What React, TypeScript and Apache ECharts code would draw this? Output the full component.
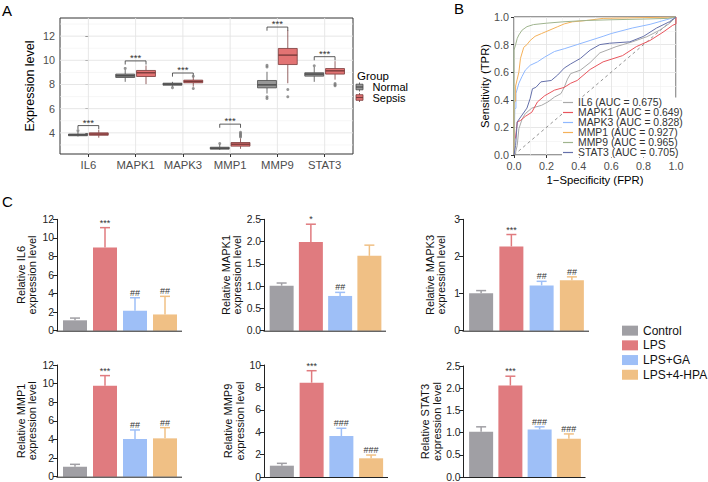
import React, { useEffect, useRef } from "react";
import * as echarts from "echarts";

const FONT = '"Liberation Sans", Arial, Helvetica, sans-serif';
const INK = "#222222";
const AXIS_GREY = "#4d4d4d";

// ---------- Panel A: hub gene expression, Normal vs Sepsis ----------
const genes = ["IL6", "MAPK1", "MAPK3", "MMP1", "MMP9", "STAT3"];
// [lower whisker, Q1, median, Q3, upper whisker]
const normalBox = [
  [3.7, 3.76, 3.83, 3.9, 4.08],
  [8.22, 8.58, 8.72, 8.86, 9.22],
  [7.82, 7.94, 8.03, 8.11, 8.22],
  [2.58, 2.65, 2.73, 2.81, 3.05],
  [7.25, 7.72, 7.97, 8.33, 9.05],
  [8.22, 8.69, 8.86, 8.97, 9.45],
];
const sepsisBox = [
  [3.6, 3.8, 3.9, 4.0, 4.25],
  [8.03, 8.66, 8.97, 9.16, 9.57],
  [7.82, 8.14, 8.25, 8.36, 8.62],
  [2.68, 2.9, 3.06, 3.2, 3.55],
  [8.1, 9.65, 10.43, 10.98, 12.5],
  [8.4, 8.86, 9.13, 9.32, 9.93],
];
// [gene index, value]
const normalOutliers = [
  [0, 4.18], [1, 9.33], [2, 7.74], [3, 3.12], [4, 9.45], [4, 9.58], [4, 6.98], [4, 6.84], [5, 9.55],
];
const sepsisOutliers = [
  [2, 7.67], [2, 8.68], [3, 3.65], [3, 3.75], [3, 3.85], [3, 3.95], [3, 4.05],
  [4, 7.58], [4, 6.98], [5, 8.08], [5, 7.98], [5, 7.9],
];
const bracketLevels = [4.6, 9.95, 8.95, 4.72, 12.75, 10.3];
const bracketLabels = ["***", "***", "***", "***", "***", "***"];
const aMajorY = [4, 6, 8, 10, 12];
const aMinorY = [3, 5, 7, 9, 11, 13];

// ---------- Panel B: ROC curves ----------
const aucLabels = ["0.675", "0.649", "0.828", "0.927", "0.965", "0.705"];
const rocIL6 = [
  [0, 0], [0.01, 0.02], [0.02, 0.07], [0.03, 0.19], [0.05, 0.26], [0.07, 0.3], [0.11, 0.34],
  [0.17, 0.36], [0.21, 0.385], [0.25, 0.42], [0.29, 0.445], [0.31, 0.49], [0.33, 0.55],
  [0.35, 0.59], [0.41, 0.615], [0.47, 0.67], [0.53, 0.74], [0.63, 0.785], [0.73, 0.82],
  [0.82, 0.857], [0.9, 0.905], [0.96, 0.954], [1, 1],
];
const rocMAPK1 = [
  [0, 0], [0, 0.1], [0.01, 0.13], [0.02, 0.24], [0.04, 0.25], [0.07, 0.28], [0.11, 0.31],
  [0.145, 0.385], [0.19, 0.43], [0.25, 0.47], [0.31, 0.49], [0.35, 0.52], [0.39, 0.54],
  [0.47, 0.62], [0.55, 0.675], [0.67, 0.72], [0.755, 0.785], [0.84, 0.83], [0.92, 0.89],
  [0.98, 0.94], [1, 0.95], [1, 1],
];
const rocMAPK3 = [
  [0, 0], [0.005, 0.33], [0.012, 0.34], [0.012, 0.445], [0.03, 0.52], [0.05, 0.57],
  [0.07, 0.615], [0.1, 0.65], [0.145, 0.675], [0.19, 0.71], [0.25, 0.75], [0.31, 0.77],
  [0.39, 0.8], [0.47, 0.83], [0.55, 0.86], [0.6, 0.88], [0.73, 0.92], [0.84, 0.947],
  [0.94, 0.98], [1, 1],
];
const rocMMP1 = [
  [0, 0], [0, 0.38], [0.01, 0.39], [0.01, 0.5], [0.02, 0.55], [0.03, 0.6], [0.04, 0.7],
  [0.06, 0.78], [0.08, 0.8], [0.1, 0.83], [0.13, 0.86], [0.17, 0.88], [0.21, 0.9],
  [0.27, 0.93], [0.31, 0.95], [0.36, 0.965], [0.45, 0.975], [0.55, 0.99], [1, 1],
];
const rocMMP9 = [
  [0, 0], [0, 0.76], [0.01, 0.8], [0.02, 0.845], [0.03, 0.87], [0.05, 0.905], [0.08, 0.93],
  [0.12, 0.945], [0.2, 0.955], [0.3, 0.965], [0.45, 0.975], [0.6, 0.98], [0.8, 0.985],
  [0.95, 0.99], [1, 1],
];
const rocSTAT3 = [
  [0, 0], [0.01, 0.07], [0.02, 0.24], [0.05, 0.29], [0.08, 0.34], [0.1, 0.41], [0.114, 0.48],
  [0.135, 0.49], [0.166, 0.53], [0.23, 0.54], [0.27, 0.58], [0.31, 0.63], [0.35, 0.66],
  [0.41, 0.7], [0.47, 0.76], [0.53, 0.8], [0.59, 0.81], [0.715, 0.82], [0.8, 0.86],
  [0.88, 0.92], [0.96, 0.966], [1, 1],
];
const rocCurves = [rocIL6, rocMAPK1, rocMAPK3, rocMMP1, rocMMP9, rocSTAT3];
const rocColors = ["#a9a9a9", "#e8555d", "#8fb8ff", "#f4b15a", "#9fb48e", "#6570aa"];

// ---------- Panel C: qPCR validation ----------
const groups = ["Control", "LPS", "LPS+GA", "LPS+4-HPA"];
const groupColors = ["#a09fa4", "#e07b7f", "#9ebff7", "#f0c085"];
const qpcrGenes = ["IL6", "MAPK1", "MAPK3", "MMP1", "MMP9", "STAT3"];
const il6Mean = [1.12, 8.95, 2.15, 1.75];
const il6Upper = [1.36, 11.1, 3.55, 3.7];
const il6Marks = ["", "***", "##", "##"];
const mapk1Mean = [1.01, 1.99, 0.78, 1.68];
const mapk1Upper = [1.07, 2.39, 0.86, 1.92];
const mapk1Marks = ["", "*", "##", ""];
const mapk3Mean = [1.01, 2.27, 1.22, 1.36];
const mapk3Upper = [1.08, 2.59, 1.33, 1.45];
const mapk3Marks = ["", "***", "##", "##"];
const mmp1Mean = [1.07, 9.78, 4.05, 4.12];
const mmp1Upper = [1.33, 10.86, 5.02, 5.27];
const mmp1Marks = ["", "***", "##", "##"];
const mmp9Mean = [1.01, 8.42, 3.66, 1.67];
const mmp9Upper = [1.22, 9.49, 4.35, 1.96];
const mmp9Marks = ["", "***", "###", "###"];
const stat3Mean = [1.02, 2.06, 1.07, 0.86];
const stat3Upper = [1.13, 2.27, 1.13, 0.97];
const stat3Marks = ["", "***", "###", "###"];
const qpcrMeans = [il6Mean, mapk1Mean, mapk3Mean, mmp1Mean, mmp9Mean, stat3Mean];
const qpcrUppers = [il6Upper, mapk1Upper, mapk3Upper, mmp1Upper, mmp9Upper, stat3Upper];
const qpcrMarks = [il6Marks, mapk1Marks, mapk3Marks, mmp1Marks, mmp9Marks, stat3Marks];
const qpcrAxisMax = [12, 2.5, 3, 12, 10, 2.5];
const qpcrAxisStep = [2, 0.5, 1, 2, 2, 0.5];

// Small-multiple placement for panel C
const cLayout = [
  { left: 60, top: 219.3, width: 120, height: 111.4, nameGap: 19 },
  { left: 267, top: 219.3, width: 117, height: 111.4, nameGap: 14 },
  { left: 466, top: 219.3, width: 121, height: 111.4, nameGap: 16 },
  { left: 60, top: 365, width: 120, height: 111.7, nameGap: 19 },
  { left: 267, top: 365, width: 119, height: 112, nameGap: 16 },
  { left: 466.5, top: 366, width: 117, height: 111, nameGap: 21 },
];

const DODGE = 0.22;
const BOX_W = 0.4;

function boxRenderer(fill: string, stroke: string) {
  return (params: any, api: any) => {
    const x = api.value(0);
    const p = [1, 2, 3, 4, 5].map((d) => api.coord([x, api.value(d)]));
    const cx = p[0][0];
    const hw = api.size([BOX_W, 0])[0] / 2;
    return {
      type: "group",
      children: [
        { type: "line", shape: { x1: cx, y1: p[4][1], x2: cx, y2: p[3][1] }, style: { stroke, lineWidth: 0.8 } },
        { type: "line", shape: { x1: cx, y1: p[0][1], x2: cx, y2: p[1][1] }, style: { stroke, lineWidth: 0.8 } },
        {
          type: "rect",
          shape: { x: cx - hw, y: p[3][1], width: hw * 2, height: p[1][1] - p[3][1] },
          style: { fill, stroke, lineWidth: 0.8 },
        },
        { type: "line", shape: { x1: cx - hw, y1: p[2][1], x2: cx + hw, y2: p[2][1] }, style: { stroke, lineWidth: 1.4 } },
      ],
    };
  };
}

function buildOption() {
  const grid: any[] = [];
  const xAxis: any[] = [];
  const yAxis: any[] = [];
  const series: any[] = [];

  // ----- A -----
  grid.push({ left: 60, top: 18, width: 293, height: 136, show: true, backgroundColor: "#fff", borderColor: "#333", borderWidth: 1 });
  xAxis.push({
    type: "value", gridIndex: 0, min: -0.6, max: 5.6,
    axisLine: { show: false }, splitLine: { show: false },
    axisTick: { show: true, length: 3, lineStyle: { color: "#333" }, customValues: [0, 1, 2, 3, 4, 5] },
    axisLabel: {
      customValues: [0, 1, 2, 3, 4, 5], formatter: (v: number) => genes[Math.round(v)] ?? "",
      fontSize: 11.3, color: AXIS_GREY, margin: 5, fontFamily: FONT,
    },
  });
  yAxis.push({
    type: "value", gridIndex: 0, min: 2.25, max: 13.5,
    axisLine: { show: false }, splitLine: { show: false },
    axisTick: { show: true, length: 3, lineStyle: { color: "#333" }, customValues: aMajorY },
    axisLabel: { customValues: aMajorY, fontSize: 10.8, color: AXIS_GREY, margin: 5, fontFamily: FONT },
    name: "Expression level", nameLocation: "middle", nameGap: 24,
    nameTextStyle: { fontSize: 12.5, color: "#000", fontFamily: FONT },
  });

  const gridData = [
    ...aMinorY.map((v) => [v, 0, 0]),
    ...aMajorY.map((v) => [v, 0, 1]),
    ...genes.map((_, i) => [i, 1, 1]),
  ];
  series.push({
    type: "custom", xAxisIndex: 0, yAxisIndex: 0, silent: true, z: 1, data: gridData,
    renderItem: (params: any, api: any) => {
      const cs = params.coordSys;
      const v = api.value(0);
      const dir = api.value(1);
      const major = api.value(2);
      const style = { stroke: major ? "#e4e4e4" : "#f0f0f0", lineWidth: major ? 0.9 : 0.6 };
      if (dir === 0) {
        const y = api.coord([0, v])[1];
        return { type: "line", shape: { x1: cs.x, y1: y, x2: cs.x + cs.width, y2: y }, style };
      }
      const x = api.coord([v, 5])[0];
      return { type: "line", shape: { x1: x, y1: cs.y, x2: x, y2: cs.y + cs.height }, style };
    },
  });
  series.push({
    type: "custom", name: "Normal", xAxisIndex: 0, yAxisIndex: 0, z: 3,
    data: normalBox.map((b, i) => [i - DODGE, ...b]),
    renderItem: boxRenderer("#979797", "#4a4a4a"),
  });
  series.push({
    type: "custom", name: "Sepsis", xAxisIndex: 0, yAxisIndex: 0, z: 3,
    data: sepsisBox.map((b, i) => [i + DODGE, ...b]),
    renderItem: boxRenderer("#e27373", "#7a3b3b"),
  });
  series.push({
    type: "scatter", xAxisIndex: 0, yAxisIndex: 0, z: 4, symbolSize: 3, silent: true,
    itemStyle: { color: "#7a7a7a" },
    data: normalOutliers.map(([i, v]) => [i - DODGE, v]),
  });
  series.push({
    type: "scatter", xAxisIndex: 0, yAxisIndex: 0, z: 4, symbolSize: 3, silent: true,
    itemStyle: { color: "#7a7a7a" },
    data: sepsisOutliers.map(([i, v]) => [i + DODGE, v]),
  });
  series.push({
    type: "custom", xAxisIndex: 0, yAxisIndex: 0, z: 4, silent: true,
    data: bracketLevels.map((y, i) => [i, y]),
    renderItem: (params: any, api: any) => {
      const i = api.value(0);
      const y = api.value(1);
      const l = api.coord([i - DODGE, y]);
      const r = api.coord([i + DODGE, y]);
      const tip = api.coord([i, y - 0.3])[1];
      return {
        type: "group",
        children: [
          {
            type: "polyline",
            shape: { points: [[l[0], tip], [l[0], l[1]], [r[0], r[1]], [r[0], tip]] },
            style: { stroke: "#333", lineWidth: 0.8, fill: "none" },
          },
          {
            type: "text", x: (l[0] + r[0]) / 2, y: l[1] + 1.5,
            style: {
              text: bracketLabels[params.dataIndex], align: "center", verticalAlign: "bottom",
              fontSize: 9.5, fontFamily: FONT, fill: "#333",
            },
          },
        ],
      };
    },
  });

  // ----- B -----
  grid.push({ left: 514, top: 17, width: 162, height: 138, show: true, backgroundColor: "#fff", borderColor: "#333", borderWidth: 1 });
  const rocAxis = (gridIndex: number, name: string, gap: number) => ({
    type: "value", gridIndex, min: 0, max: 1, interval: 0.2,
    axisLine: { show: false },
    axisTick: { show: true, length: 3, lineStyle: { color: "#333" } },
    axisLabel: {
      formatter: (v: number) => v.toFixed(1), fontSize: 10.8, color: AXIS_GREY, margin: 5,
      fontFamily: FONT, showMinLabel: true, showMaxLabel: true,
    },
    splitLine: { show: true, lineStyle: { color: "#e4e4e4", width: 0.9 } },
    minorTick: { show: false, splitNumber: 2 },
    minorSplitLine: { show: true, lineStyle: { color: "#f0f0f0", width: 0.6 } },
    name, nameLocation: "middle", nameGap: gap,
    nameTextStyle: { fontSize: 11.3, color: "#000", fontFamily: FONT },
  });
  xAxis.push(rocAxis(1, "1\u2212Specificity (FPR)", 19));
  yAxis.push(rocAxis(1, "Sensitivity (TPR)", 23));
  series.push({
    type: "line", xAxisIndex: 1, yAxisIndex: 1, silent: true, showSymbol: false, z: 2,
    data: [[0, 0], [1, 1]],
    lineStyle: { color: "#777", width: 0.8, type: [3, 3] },
  });
  genes.forEach((g, i) => {
    series.push({
      type: "line", name: g, xAxisIndex: 1, yAxisIndex: 1, showSymbol: false, z: 3,
      data: rocCurves[i],
      lineStyle: { color: rocColors[i], width: 1 },
      itemStyle: { color: rocColors[i] },
    });
  });

  // ----- C -----
  qpcrGenes.forEach((g, k) => {
    const L = cLayout[k];
    const gi = 2 + k;
    grid.push({ left: L.left, top: L.top, width: L.width, height: L.height });
    xAxis.push({
      type: "category", gridIndex: gi, data: groups,
      axisLine: { show: false }, axisTick: { show: false }, axisLabel: { show: false },
    });
    yAxis.push({
      type: "value", gridIndex: gi, min: 0, max: qpcrAxisMax[k], interval: qpcrAxisStep[k], offset: 3,
      axisLine: { show: true, lineStyle: { color: INK, width: 1 } },
      axisTick: { show: true, length: 4, lineStyle: { color: INK, width: 1 } },
      axisLabel: {
        fontSize: 10.3, color: INK, margin: 3, fontFamily: FONT,
        formatter: (v: number) => (qpcrAxisStep[k] < 1 ? v.toFixed(1) : String(v)),
      },
      splitLine: { show: false },
      name: `Relative ${g}\nexpression level`, nameLocation: "middle", nameGap: L.nameGap,
      nameTextStyle: { fontSize: 11, lineHeight: 11.5, color: "#111", fontFamily: FONT },
    });
    groups.forEach((grp, j) => {
      series.push({
        type: "bar", name: grp, xAxisIndex: gi, yAxisIndex: gi, z: 2,
        data: qpcrMeans[k].map((v, i) => (i === j ? v : "-")),
        barWidth: 24, barGap: "-100%",
        itemStyle: { color: groupColors[j] },
      });
    });
    series.push({
      type: "custom", xAxisIndex: gi, yAxisIndex: gi, z: 3, silent: true,
      data: qpcrMeans[k].map((m, i) => [i, m, qpcrUppers[k][i]]),
      renderItem: (params: any, api: any) => {
        const i = api.value(0);
        const top = api.coord([i, api.value(1)]);
        const cap = api.coord([i, api.value(2)]);
        const color = groupColors[params.dataIndex];
        const children: any[] = [
          { type: "line", shape: { x1: top[0], y1: top[1], x2: cap[0], y2: cap[1] }, style: { stroke: color, lineWidth: 1.5 } },
          { type: "line", shape: { x1: cap[0] - 5, y1: cap[1], x2: cap[0] + 5, y2: cap[1] }, style: { stroke: color, lineWidth: 1.5 } },
        ];
        const mark = qpcrMarks[k][params.dataIndex];
        if (mark) {
          children.push({
            type: "text", x: cap[0], y: cap[1] - 0.5,
            style: { text: mark, align: "center", verticalAlign: "bottom", fontSize: 9, fontFamily: FONT, fill: "#333" },
          });
        }
        if (params.dataIndex === 0) {
          const cs = params.coordSys;
          const yb = cs.y + cs.height + 0.5;
          children.push({
            type: "line", shape: { x1: cs.x - 3.5, y1: yb, x2: cs.x + cs.width + 2, y2: yb },
            style: { stroke: INK, lineWidth: 1 },
          });
        }
        return { type: "group", children };
      },
    });
  });

  const legendKey = (y: number, fill: string, stroke: string) => ({
    type: "group",
    children: [
      { type: "line", shape: { x1: 359.5, y1: y - 4.5, x2: 359.5, y2: y + 4.5 }, style: { stroke, lineWidth: 0.8 } },
      { type: "rect", shape: { x: 356, y: y - 2.8, width: 7, height: 5.6 }, style: { fill, stroke, lineWidth: 0.8 } },
      { type: "line", shape: { x1: 356, y1: y, x2: 363, y2: y }, style: { stroke, lineWidth: 1.2 } },
    ],
  });
  const legendText = (text: string, x: number, y: number, size: number) => ({
    type: "text", x, y,
    style: { text, fontSize: size, lineHeight: 10, fontFamily: FONT, fill: "#000", verticalAlign: "middle" },
  });

  return {
    animation: false,
    backgroundColor: "#fff",
    textStyle: { fontFamily: FONT },
    grid,
    xAxis,
    yAxis,
    series,
    legend: [
      {
        orient: "vertical", left: 562, top: 97.5, itemWidth: 10, itemHeight: 1.2, icon: "rect",
        itemGap: 0, padding: [0, 1, 0, 1], backgroundColor: "#fff", selectedMode: false,
        data: genes,
        formatter: (name: string) => `${name} (AUC = ${aucLabels[genes.indexOf(name)]})`,
        textStyle: { fontSize: 10.4, lineHeight: 9.4, color: "#333", fontFamily: FONT },
      },
      {
        orient: "vertical", left: 622, top: 323.3, itemWidth: 16, itemHeight: 10, icon: "rect",
        itemGap: 0, padding: 0, selectedMode: false,
        data: groups,
        textStyle: { fontSize: 12, lineHeight: 14.7, color: "#111", fontFamily: FONT },
      },
    ],
    graphic: [
      { type: "text", x: 2, y: 10, style: { text: "A", fontSize: 15, fontFamily: FONT, fill: "#000", verticalAlign: "middle" } },
      { type: "text", x: 454, y: 8.5, style: { text: "B", fontSize: 15, fontFamily: FONT, fill: "#000", verticalAlign: "middle" } },
      { type: "text", x: 2, y: 201, style: { text: "C", fontSize: 15, fontFamily: FONT, fill: "#000", verticalAlign: "middle" } },
      legendText("Group", 357, 76, 11.5),
      legendKey(87, "#979797", "#4a4a4a"),
      legendText("Normal", 372.5, 87, 11),
      legendKey(97.5, "#e27373", "#7a3b3b"),
      legendText("Sepsis", 372.5, 97.5, 11),
    ],
  };
}

export default function App() {
  const ref = useRef<HTMLDivElement>(null);
  useEffect(() => {
    if (!ref.current) return;
    const chart = echarts.init(ref.current, undefined, { renderer: "svg" });
    chart.setOption(buildOption() as any);
    return () => chart.dispose();
  }, []);
  return (
    <div
      ref={ref}
      style={{ position: "fixed", left: 0, top: 0, width: 708, height: 482, background: "#fff" }}
    />
  );
}
